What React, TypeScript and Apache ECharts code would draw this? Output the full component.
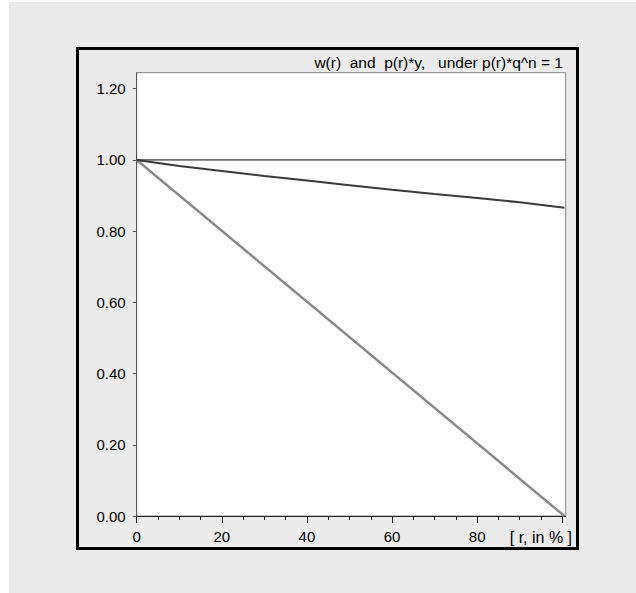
import React, { useEffect, useRef } from "react";
import * as echarts from "echarts";

// r in %
const rValues = [0, 10, 20, 30, 40, 50, 60, 70, 80, 90, 100.5];
// w(r)
const wValues = [1.0, 0.983, 0.969, 0.955, 0.942, 0.929, 0.916, 0.904, 0.893, 0.881, 0.866];
// p(r)*y
const pyR = [0, 100.5];
const pyValues = [1.0, 0.0];
// reference level 1
const refR = [0, 100.8];
const refValues = [1.0, 1.0];

const xLabelValues = [0, 20, 40, 60, 80];
const xMajorTicks = [0, 20, 40, 60, 80, 100];
const xMinorTicks = [0, 5, 10, 15, 20, 25, 30, 35, 40, 45, 50, 55, 60, 65, 70, 75, 80, 85, 90, 95, 100];
const yTickValues = [0, 0.2, 0.4, 0.6, 0.8, 1.0, 1.2];

const titleText = "w(r)  and  p(r)*y,   under p(r)*q^n = 1";
const xAxisTitle = "[ r, in % ]";

const FONT = "'Liberation Sans', Arial, sans-serif";

export default function App() {
  const ref = useRef<HTMLDivElement>(null);
  useEffect(() => {
    if (!ref.current) return;
    const chart = echarts.init(ref.current, null, { renderer: "svg" });
    const gridPos = { left: 136.7, top: 72.7, right: 70.3, bottom: 77 };
    const X_MAX = 100.8;
    const Y_MAX = 1.245;
    chart.setOption({
      animation: false,
      backgroundColor: "#ffffff",
      graphic: [
        {
          type: "rect",
          z: -10,
          silent: true,
          shape: { x: 9, y: 2, width: 640, height: 600 },
          style: { fill: "#ebebeb" },
        },
        {
          type: "rect",
          z: 100,
          silent: true,
          shape: { x: 77.5, y: 48.5, width: 500, height: 500 },
          style: { fill: "none", stroke: "#000", lineWidth: 3 },
        },
        {
          type: "text",
          z: 100,
          x: 563,
          y: 62,
          style: {
            text: titleText,
            font: `15.5px ${FONT}`,
            fill: "#000",
            align: "right",
            verticalAlign: "middle",
          },
        },
        {
          type: "text",
          z: 100,
          x: 572,
          y: 537,
          style: {
            text: xAxisTitle,
            font: `16px ${FONT}`,
            fill: "#000",
            align: "right",
            verticalAlign: "middle",
          },
        },
      ],
      grid: [
        {
          ...gridPos,
          show: true,
          backgroundColor: "#ffffff",
          borderColor: "#888",
          borderWidth: 1,
          outerBoundsMode: "none",
          containLabel: false,
        },
        {
          ...gridPos,
          show: false,
          outerBoundsMode: "none",
          containLabel: false,
        },
      ],
      xAxis: [
        {
          type: "value",
          gridIndex: 0,
          min: 0,
          max: X_MAX,
          interval: 20,
          splitLine: { show: false },
          axisLine: { show: true, lineStyle: { color: "#222", width: 1 } },
          axisTick: {
            show: true,
            length: 4,
            customValues: xMinorTicks,
            lineStyle: { color: "#222", width: 1 },
          },
          axisLabel: {
            customValues: xLabelValues,
            margin: 13,
            color: "#000",
            fontSize: 15,
            fontFamily: FONT,
          },
        },
        {
          type: "value",
          gridIndex: 1,
          min: 0,
          max: X_MAX,
          interval: 20,
          splitLine: { show: false },
          axisLine: { show: false },
          axisTick: {
            show: true,
            length: 7,
            customValues: xMajorTicks,
            lineStyle: { color: "#222", width: 1 },
          },
          axisLabel: { show: false },
        },
      ],
      yAxis: [
        {
          type: "value",
          gridIndex: 0,
          min: 0,
          max: Y_MAX,
          interval: 0.2,
          splitLine: { show: false },
          axisLine: { show: true, lineStyle: { color: "#555", width: 1 } },
          axisTick: {
            show: true,
            length: 4,
            customValues: yTickValues,
            lineStyle: { color: "#555", width: 1 },
          },
          axisLabel: {
            customValues: yTickValues,
            margin: 11,
            color: "#000",
            fontSize: 15,
            fontFamily: FONT,
            formatter: (v: number) => v.toFixed(2),
          },
        },
        {
          type: "value",
          gridIndex: 1,
          min: 0,
          max: Y_MAX,
          show: false,
        },
      ],
      series: [
        {
          type: "line",
          xAxisIndex: 0,
          yAxisIndex: 0,
          data: refR.map((r, i) => [r, refValues[i]]),
          symbol: "none",
          lineStyle: { color: "#000", width: 1 },
          z: 3,
        },
        {
          type: "line",
          xAxisIndex: 0,
          yAxisIndex: 0,
          data: pyR.map((r, i) => [r, pyValues[i]]),
          symbol: "none",
          lineStyle: { color: "#8a8a8a", width: 2.5 },
          z: 2,
        },
        {
          type: "line",
          xAxisIndex: 0,
          yAxisIndex: 0,
          data: rValues.map((r, i) => [r, wValues[i]]),
          symbol: "none",
          lineStyle: { color: "#3a3a3a", width: 2 },
          z: 4,
        },
      ],
    });
    return () => chart.dispose();
  }, []);
  return (
    <div
      ref={ref}
      style={{ position: "absolute", left: 0, top: 0, width: 636, height: 593 }}
    />
  );
}
